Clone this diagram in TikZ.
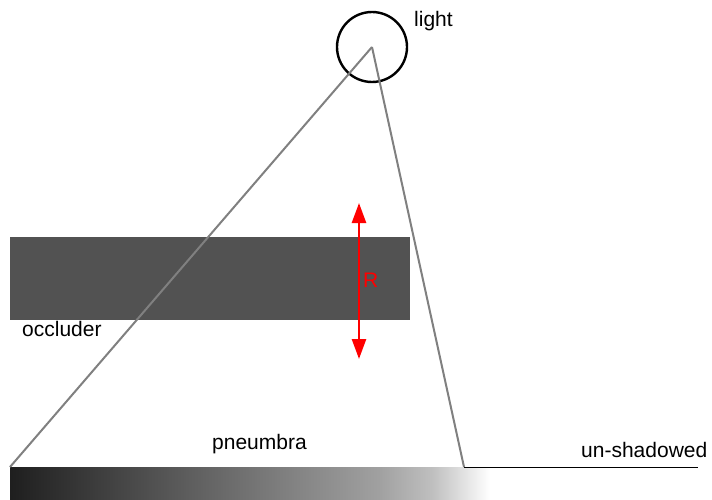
\documentclass[tikz,border=0pt]{standalone}
\usepackage{fontspec}
\setmainfont{Liberation Sans}
\usetikzlibrary{arrows.meta, positioning}
\pgfdeclarehorizontalshading{penumbrafade}{100bp}{color(0bp)=(black!88); color(25bp)=(black!88); color(63.5bp)=(black!37); color(69bp)=(black!25); color(75bp)=(white); color(100bp)=(white)}

\begin{document}
\begin{tikzpicture}[
    x=1pt, y=-1pt,
    every node/.style={font=\fontsize{21}{25}\selectfont, inner sep=0pt},
    lightbulb/.style={circle, draw=black, line width=2.4pt, minimum size=70pt},
    occluderbox/.style={rectangle, fill=black!68, minimum width=400pt, minimum height=83pt, anchor=north west},
    ray/.style={draw=black!50, line width=2pt},
    floorline/.style={draw=black, line width=1pt},
    radiusarrow/.style={{Triangle[length=20pt, width=14pt]}-{Triangle[length=20pt, width=14pt]}, red, line width=2.6pt},
    caption/.style={anchor=base west}
]
\useasboundingbox (0,0) rectangle (712,500);

% light source and its rays
\node[lightbulb] (light) at (372,47) {};
\node[caption] (lightlabel) at (414,27) {light};
\coordinate (leftfoot) at (10,467);
\coordinate (rightfoot) at (464,467);
\coordinate (floorend) at (698,467);

% gradient of the shadow on the floor
\shade[shading=penumbrafade] (10,467) rectangle (490,500);
\draw[floorline] (rightfoot) -- (floorend);

% blocker
\node[occluderbox] (occluder) at (10,237) {};
\node[caption] (occluderlabel) at (22,336) {occluder};

\draw[ray] (light.center) -- (leftfoot);
\draw[ray] (light.center) -- (rightfoot);

% size of the blocker
\coordinate (rtop) at (359,203);
\coordinate (rbottom) at (359,359);
\draw[radiusarrow] (rtop) -- (rbottom);
\node[caption, text=red] (rlabel) at (363,287) {R};

\node[caption] (penumbralabel) at (212,449) {pneumbra};
\node[caption] (unshadowedlabel) at (581,457) {un-shadowed};

\end{tikzpicture}
\end{document}
